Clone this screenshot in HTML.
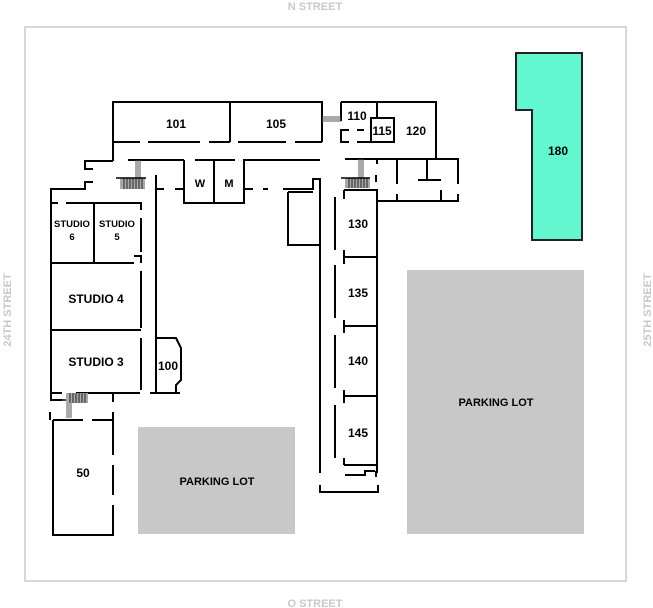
<!DOCTYPE html>
<html><head><meta charset="utf-8"><style>
html,body{margin:0;padding:0;background:#fff;}
svg{display:block;font-family:"Liberation Sans",sans-serif;font-weight:bold;}
</style></head><body>
<svg width="653" height="608" viewBox="0 0 653 608" xmlns="http://www.w3.org/2000/svg">
<rect x="25" y="27" width="601" height="554" fill="none" stroke="#d9d9d9" stroke-width="2"/>
<g fill="#c8c8c8" font-size="11" text-anchor="middle">
<text x="315" y="10">N STREET</text>
<text x="315" y="607">O STREET</text>
<text transform="translate(11,310) rotate(-90)">24TH STREET</text>
<text transform="translate(651,310) rotate(-90)">25TH STREET</text>
</g>
<rect x="407" y="270" width="177" height="264" fill="#c8c8c8"/>
<rect x="138" y="427" width="157" height="107" fill="#c8c8c8"/>
<polygon points="516,53 582,53 582,240 532,240 532,110 516,110" fill="#63f7cf" stroke="#222" stroke-width="2"/>
<g fill="none" stroke="#000" stroke-width="2">
<!-- 101/105 -->
<path d="M113,161 V102 H322 V142 M230,102 V142"/>
<path d="M113,142 H140 M148,142 H200 M209,142 H230 M238,142 H286 M295,142 H322"/>
<path d="M113,161 H85 V169 H93 M93,182 H85 V189 H51 V393"/>
<!-- corridor top -->
<path d="M128,160 H184 M155,189 H164 M175,189 H184"/>
<path d="M184,160 V203 H244 V160 H320 M195,160 H214 M214,160 V203 M214,160 H235"/>
<path d="M245,189 H253 M263,189 H268 M283,189 H313 V179 H320 V473"/>
<path d="M156,175 V390"/>
<path d="M288,192 V245 H319 M288,192 H313"/>
<path d="M320,485 V492 H378 V485"/>
<!-- rooms 130-145 -->
<path d="M344,190 H377 V473 M344,190 V199 M344,257 H377 M344,257 V250 M344,257 V264 M344,326 H377 M344,326 V320 M344,326 V333 M344,396 H377 M344,396 V390 M344,396 V403 M344,465 H377 M344,465 V458"/>
<path d="M335,197 V250 M335,265 V318 M335,335 V388 M335,405 V458"/>
<path d="M345,475 H365 V471 H375 M376,471 V477"/>
<!-- 110/115/120 -->
<path d="M341,102 V121 M341,102 H436 V159 M377,102 V118"/>
<rect x="371" y="118" width="23" height="24"/>
<path d="M349,130 H341 V142 H349 M357,142 H371 M357,130 H364"/>
<path d="M345,159 H458 V184 M397,159 V184 M427,159 V180 M418,180 H441 M377,159 V164 M376,175 V182"/>
<path d="M377,201 H458 V194 M397,201 V194 M441,201 V190"/>
<!-- studios -->
<path d="M51,203 H58 M66,203 H141 V210 M94,203 V263 M141,218 V252 M134,256 H141 V263 M51,263 H134"/>
<path d="M141,271 V328 M51,330 H141 M141,338 V390"/>
<path d="M51,393 H62 M76,393 H140 M150,393 H180"/>
<!-- 100 -->
<path d="M156,338 H176 L181,348 V380 L176,385 V393 M156,390 V393"/>
<!-- 50 -->
<path d="M51,393 V400 H62 M50,412 V420 M113,393 V402 M113,412 V420"/>
<path d="M53,420 V535 H113 V505 M113,495 V465 M113,455 V420 M53,420 H83 M92,420 H113"/>
</g>
<!-- stairs & connectors -->
<g stroke="#555" stroke-width="1" fill="none">
<path d="M322,117 H341 M322,119 H341 M322,121 H341"/>
<path d="M136,160 V178 M138,160 V178 M140,160 V178"/>
<path d="M359,159 V178 M361,159 V178 M363,159 V178"/>
<path d="M67,402 V418 M69,402 V418 M71,402 V418"/>
</g>
<g fill="#aaa"><rect x="120" y="178" width="25" height="11"/><rect x="345" y="178" width="25" height="10"/><rect x="66" y="393" width="22" height="10"/></g>
<g stroke="#000" stroke-width="0.8"><path d="M124,178 V189 M127,178 V189 M130,178 V189 M133,178 V189 M136,178 V189 M139,178 V189 M142,178 V189 M349,178 V188 M352,178 V188 M355,178 V188 M358,178 V188 M361,178 V188 M364,178 V188 M367,178 V188 M70,393 V403 M73,393 V403 M76,393 V403 M79,393 V403 M82,393 V403 M85,393 V403"/></g>
<path d="M116,178 H146 M341,178 H370 M62,400 H66" stroke="#000" stroke-width="1.5"/>
<g fill="#000" font-size="12" text-anchor="middle">
<text x="176" y="128">101</text>
<text x="276" y="128">105</text>
<text x="357" y="120">110</text>
<text x="382" y="135">115</text>
<text x="416" y="135">120</text>
<text x="558" y="155">180</text>
<text x="200" y="187" font-size="11">W</text>
<text x="229" y="187" font-size="11">M</text>
<text x="72" y="227" font-size="9.5">STUDIO</text>
<text x="72" y="240" font-size="9.5">6</text>
<text x="117" y="227" font-size="9.5">STUDIO</text>
<text x="117" y="240" font-size="9.5">5</text>
<text x="96" y="303">STUDIO 4</text>
<text x="96" y="366">STUDIO 3</text>
<text x="168" y="370">100</text>
<text x="358" y="228">130</text>
<text x="358" y="297">135</text>
<text x="358" y="365">140</text>
<text x="358" y="437">145</text>
<text x="83" y="477">50</text>
<text x="217" y="485" font-size="11">PARKING LOT</text>
<text x="496" y="406" font-size="11">PARKING LOT</text>
</g>
</svg>
</body></html>
